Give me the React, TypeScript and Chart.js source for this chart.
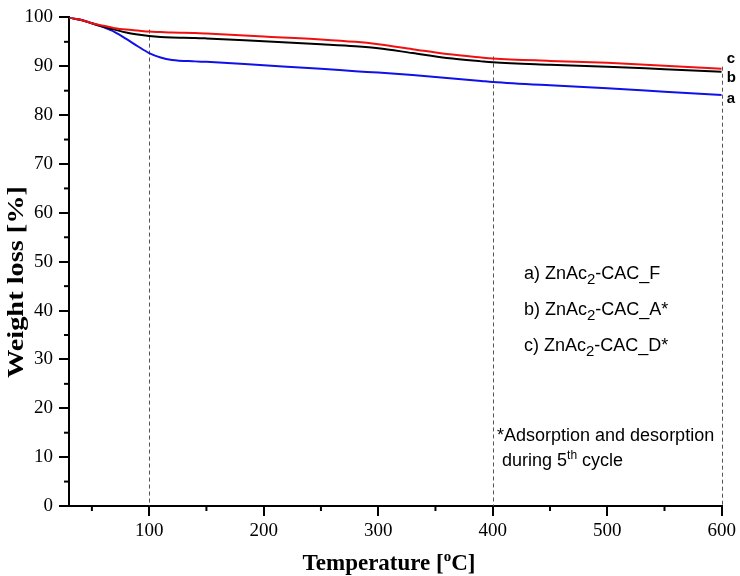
import React, { useEffect, useRef } from "react";
import { Chart, registerables } from "chart.js";

Chart.register(...registerables);

const temperatures = [30, 40, 50, 60, 70, 80, 90, 100, 110, 120, 140, 150, 200, 250, 280, 300, 330, 360, 390, 400, 450, 500, 550, 600];
const seriesA = [100, 99.5, 98.8, 98.0, 97.0, 95.6, 94.1, 92.7, 91.8, 91.3, 91.0, 90.9, 90.2, 89.5, 89.0, 88.7, 88.2, 87.6, 87.0, 86.8, 86.1, 85.5, 84.8, 84.1];
const seriesB = [100, 99.5, 98.8, 98.1, 97.5, 96.9, 96.5, 96.2, 96.0, 95.9, 95.8, 95.7, 95.1, 94.5, 94.1, 93.7, 92.7, 91.7, 91.0, 90.8, 90.3, 89.9, 89.4, 88.9];
const seriesC = [100, 99.5, 98.8, 98.3, 97.8, 97.5, 97.3, 97.1, 97.0, 96.9, 96.8, 96.7, 96.1, 95.5, 95.0, 94.5, 93.5, 92.5, 91.8, 91.6, 91.1, 90.7, 90.1, 89.5];
const xMajorTicks = [100, 200, 300, 400, 500, 600];
const xMinorTicks = [50, 150, 250, 350, 450, 550];
const yMinorTicks = [5, 15, 25, 35, 45, 55, 65, 75, 85, 95];
const dashedAt = [100, 400, 600];
const legendLines = [
  ["a) ZnAc", "2", "-CAC_F"],
  ["b) ZnAc", "2", "-CAC_A*"],
  ["c) ZnAc", "2", "-CAC_D*"],
];
const endLabels = ["a", "b", "c"];
const endLabelValues = [83.3, 87.7, 91.6];

const SERIF = "'Liberation Serif', 'Times New Roman', serif";
const SANS = "'Liberation Sans', Arial, sans-serif";

const toPts = (vals: number[]) => vals.map((v, i) => ({ x: temperatures[i], y: v }));

const overlay = {
  id: "overlay",
  beforeDatasetsDraw(chart: any) {
    const { ctx, chartArea, scales } = chart;
    const xs = scales.x, ys = scales.y;
    ctx.save();
    ctx.strokeStyle = "#555";
    ctx.lineWidth = 1;
    ctx.setLineDash([4, 3]);
    dashedAt.forEach((t) => {
      const idx = temperatures.indexOf(t);
      const top = ys.getPixelForValue(seriesC[idx]) - 2;
      const px = Math.round(xs.getPixelForValue(t)) + 0.5;
      ctx.beginPath();
      ctx.moveTo(px, top);
      ctx.lineTo(px, chartArea.bottom);
      ctx.stroke();
    });
    ctx.restore();
  },
  afterDraw(chart: any) {
    const { ctx, chartArea, scales } = chart;
    const xs = scales.x, ys = scales.y;
    ctx.save();
    // minor ticks
    ctx.strokeStyle = "#000";
    ctx.lineWidth = 2;
    xMinorTicks.forEach((t) => {
      const px = xs.getPixelForValue(t);
      ctx.beginPath();
      ctx.moveTo(px, chartArea.bottom);
      ctx.lineTo(px, chartArea.bottom + 5);
      ctx.stroke();
    });
    yMinorTicks.forEach((v) => {
      const py = ys.getPixelForValue(v);
      ctx.beginPath();
      ctx.moveTo(chartArea.left, py);
      ctx.lineTo(chartArea.left - 5, py);
      ctx.stroke();
    });

    // end labels a b c
    ctx.fillStyle = "#000";
    ctx.font = `bold 15px ${SANS}`;
    ctx.textAlign = "left";
    ctx.textBaseline = "middle";
    endLabels.forEach((l, i) => {
      ctx.fillText(l, chartArea.right + 5, ys.getPixelForValue(endLabelValues[i]));
    });

    // legend text
    ctx.textBaseline = "alphabetic";
    const legendX = 524;
    const legendY = [279, 315, 351];
    legendLines.forEach((parts, i) => {
      let x = legendX;
      ctx.font = `18px ${SANS}`;
      ctx.fillText(parts[0], x, legendY[i]);
      x += ctx.measureText(parts[0]).width;
      ctx.font = `15px ${SANS}`;
      ctx.fillText(parts[1], x, legendY[i] + 5);
      x += ctx.measureText(parts[1]).width;
      ctx.font = `18px ${SANS}`;
      ctx.fillText(parts[2], x, legendY[i]);
    });

    // annotation
    ctx.font = `18px ${SANS}`;
    ctx.fillText("*Adsorption and desorption", 497, 441);
    let ax = 502;
    ctx.fillText("during 5", ax, 466);
    ax += ctx.measureText("during 5").width;
    ctx.font = `12px ${SANS}`;
    ctx.fillText("th", ax, 459);
    ax += ctx.measureText("th").width;
    ctx.font = `18px ${SANS}`;
    ctx.fillText(" cycle", ax, 466);

    // x title
    const p1 = "Temperature [";
    const p2 = "o";
    const p3 = "C]";
    ctx.font = `bold 23px ${SERIF}`;
    const w1 = ctx.measureText(p1).width;
    const w3 = ctx.measureText(p3).width;
    ctx.font = `bold 15px ${SERIF}`;
    const w2 = ctx.measureText(p2).width;
    const total = w1 + w2 + w3;
    let tx = 389 - total / 2;
    const ty = 570;
    ctx.font = `bold 23px ${SERIF}`;
    ctx.fillText(p1, tx, ty);
    tx += w1;
    ctx.font = `bold 15px ${SERIF}`;
    ctx.fillText(p2, tx, ty - 9);
    tx += w2;
    ctx.font = `bold 23px ${SERIF}`;
    ctx.fillText(p3, tx, ty);

    // y title
    ctx.save();
    ctx.translate(23, 282);
    ctx.rotate(-Math.PI / 2);
    ctx.textAlign = "center";
    ctx.font = `bold 24px ${SERIF}`;
    const yt = "Weight loss [%]";
    const yw = ctx.measureText(yt).width;
    ctx.scale(192 / yw, 1);
    ctx.fillText(yt, 0, 0);
    ctx.restore();

    ctx.restore();
  },
};

export default function App() {
  const ref = useRef<HTMLCanvasElement | null>(null);
  useEffect(() => {
    if (!ref.current) return;
    const chart = new Chart(ref.current, {
      type: "line",
      data: {
        datasets: [
          { label: "c", data: toPts(seriesC), borderColor: "#f01010", borderWidth: 2, pointRadius: 0, cubicInterpolationMode: "monotone" },
          { label: "b", data: toPts(seriesB), borderColor: "#000000", borderWidth: 2, pointRadius: 0, cubicInterpolationMode: "monotone" },
          { label: "a", data: toPts(seriesA), borderColor: "#1010e8", borderWidth: 2, pointRadius: 0, cubicInterpolationMode: "monotone" },
        ],
      },
      options: {
        animation: false,
        responsive: false,
        maintainAspectRatio: false,
        layout: { padding: { left: 0, right: 17, top: 7, bottom: 0 } },
        plugins: { legend: { display: false }, tooltip: { enabled: false } },
        scales: {
          x: {
            type: "linear",
            min: 30,
            max: 600,
            afterBuildTicks: (scale: any) => {
              scale.ticks = xMajorTicks.map((v) => ({ value: v }));
            },
            afterFit: (scale: any) => {
              scale.height = 70;
            },
            grid: { display: true, drawOnChartArea: false, drawTicks: true, tickLength: 10, color: "#000", lineWidth: 2 },
            border: { display: true, color: "#000", width: 2 },
            ticks: { color: "#000", font: { family: SERIF, size: 19 }, padding: 4, maxRotation: 0 },
          },
          y: {
            type: "linear",
            min: 0,
            max: 100,
            ticks: { stepSize: 10, color: "#000", font: { family: SERIF, size: 19 }, padding: 6 },
            afterFit: (scale: any) => {
              scale.width = 69;
            },
            grid: { display: true, drawOnChartArea: false, drawTicks: true, tickLength: 10, color: "#000", lineWidth: 2 },
            border: { display: true, color: "#000", width: 2 },
          },
        },
      },
      plugins: [overlay],
    } as any);
    return () => chart.destroy();
  }, []);
  return (
    <div style={{ position: "absolute", left: 0, top: 0, width: 740, height: 576, background: "#fff" }}>
      <canvas ref={ref} width={740} height={576} style={{ width: 740, height: 576, display: "block" }} />
    </div>
  );
}
